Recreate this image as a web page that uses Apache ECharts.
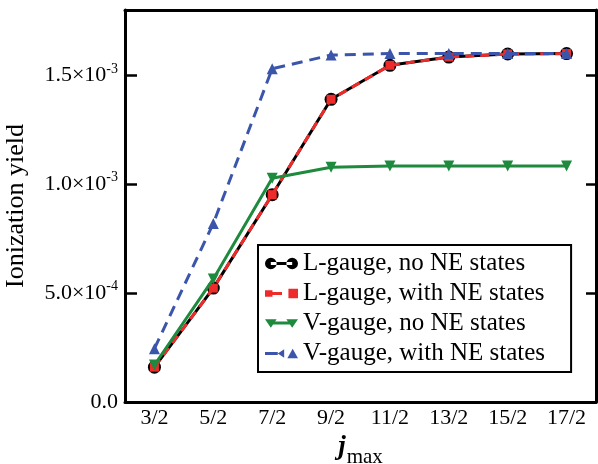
<!DOCTYPE html>
<html>
<head>
<meta charset="utf-8">
<script src="https://cdn.jsdelivr.net/npm/echarts@6/dist/echarts.min.js"></script>
<style>
  html, body { margin: 0; padding: 0; background: #fff; }
  #chart { width: 598px; height: 464px; }
</style>
</head>
<body>
<div id="chart"></div>
<script>
// j_max categories
const jmax = ['3/2', '5/2', '7/2', '9/2', '11/2', '13/2', '15/2', '17/2'];

// ionization yield values
const lNoNE = [0.160e-3, 0.523e-3, 0.952e-3, 1.390e-3, 1.546e-3, 1.584e-3, 1.598e-3, 1.600e-3];
const lWithNE = [0.160e-3, 0.523e-3, 0.952e-3, 1.390e-3, 1.546e-3, 1.584e-3, 1.598e-3, 1.600e-3];
const vNoNE = [0.170e-3, 0.565e-3, 1.027e-3, 1.078e-3, 1.084e-3, 1.084e-3, 1.084e-3, 1.084e-3];
const vWithNE = [0.245e-3, 0.820e-3, 1.530e-3, 1.593e-3, 1.600e-3, 1.600e-3, 1.600e-3, 1.600e-3];

// y tick labels
const yMajor = [0, 5e-4, 1e-3, 1.5e-3];
const yLabels = ['{a|0.0}', '{a|5.0×10}{s|-4}', '{a|1.0×10}{s|-3}', '{a|1.5×10}{s|-3}'];

const FONT = 'Liberation Serif';
const RED = '#ee2b2b', GREEN = '#1d8a3d', BLUE = '#3b55aa';

let chart = echarts.init(document.getElementById('chart'), null, { renderer: 'canvas' });

function yLabel(v) {
  for (let i = 0; i < yMajor.length; i++) {
    if (Math.abs(v - yMajor[i]) < 1e-9) return yLabels[i];
  }
  return '';
}

// legend icons: marker - line - marker
const iconL = 'path://M0,6a6,6 0 1,0 12,0a6,6 0 1,0 -12,0zM6,4.5h22v3h-22zM22,6a6,6 0 1,0 12,0a6,6 0 1,0 -12,0z';
const iconLNE = 'path://M2,3h7v6h-7zM9,4.5h9v3h-9zM24,1.5h9v9h-9z';
const iconV = 'path://M0,2h12l-6,9zM6,4.5h22v3h-22zM22,2h12l-6,9z';
const iconVNE = 'path://M2,4.5h12v3h-12zM14,6l6,-4v8zM23,10.5l5,-9l5,9z';

let axisCommon = {
  min: 0,
  max: 1.8e-3,
  interval: 1e-4,
  splitLine: { show: false },
};

let option = {
  animation: false,
  grid: { left: 125, right: 2, top: 10, bottom: 62, containLabel: false, outerBoundsMode: 'none' },
  legend: {
    orient: 'vertical',
    left: 258,
    top: 245,
    padding: [6, 26, 6, 7],
    itemGap: 5,
    itemWidth: 33,
    itemHeight: 12,
    backgroundColor: '#fff',
    borderColor: '#000',
    borderWidth: 2,
    textStyle: { fontFamily: FONT, fontSize: 25, color: '#000', lineHeight: 24 },
    data: [
      { name: 'L-gauge, no NE states', icon: iconL, itemStyle: { color: '#000' } },
      { name: 'L-gauge, with NE states', icon: iconLNE, itemStyle: { color: RED } },
      { name: 'V-gauge, no NE states', icon: iconV, itemStyle: { color: GREEN } },
      { name: 'V-gauge, with NE states', icon: iconVNE, itemStyle: { color: BLUE } },
    ],
  },
  xAxis: [
    {
      type: 'category',
      data: jmax,
      position: 'bottom',
      boundaryGap: true,
      name: '{j|j}{m|max}',
      nameLocation: 'middle',
      nameGap: 22,
      nameTextStyle: {
        rich: {
          j: { fontFamily: FONT, fontSize: 27, fontWeight: 'bold', fontStyle: 'italic', color: '#000' },
          m: { fontFamily: FONT, fontSize: 21, color: '#000', padding: [20, 0, 0, 1] },
        },
      },
      axisLine: { onZero: false, lineStyle: { color: '#000', width: 3 } },
      axisTick: { alignWithLabel: true, inside: true, length: 10, lineStyle: { color: '#000', width: 2.5 } },
      axisLabel: { fontFamily: FONT, fontSize: 22, color: '#000', margin: 5 },
      splitLine: { show: false },
    },
    {
      type: 'category',
      data: jmax,
      position: 'top',
      boundaryGap: true,
      axisLine: { onZero: false, lineStyle: { color: '#000', width: 3 } },
      axisTick: { alignWithLabel: true, inside: true, length: 10, lineStyle: { color: '#000', width: 2.5 } },
      axisLabel: { show: false },
      splitLine: { show: false },
    },
  ],
  yAxis: [
    Object.assign({}, axisCommon, {
      type: 'value',
      position: 'left',
      name: 'Ionization yield',
      nameLocation: 'middle',
      nameGap: 96,
      nameTextStyle: { fontFamily: FONT, fontSize: 26, color: '#000' },
      axisLine: { show: true, onZero: false, lineStyle: { color: '#000', width: 3 } },
      axisTick: { inside: true, length: 6, lineStyle: { color: '#000', width: 2 } },
      axisLabel: {
        customValues: yMajor,
        formatter: yLabel,
        margin: 7,
        rich: {
          a: { fontFamily: FONT, fontSize: 22, color: '#000' },
          s: { fontFamily: FONT, fontSize: 14, color: '#000', padding: [0, 0, 13, 0] },
        },
      },
    }),
    Object.assign({}, axisCommon, {
      type: 'value',
      position: 'right',
      axisLine: { show: true, onZero: false, lineStyle: { color: '#000', width: 3 } },
      axisTick: { inside: true, length: 5, lineStyle: { color: '#000', width: 2 } },
      axisLabel: { show: false },
    }),
    Object.assign({}, axisCommon, {
      type: 'value',
      position: 'left',
      axisLine: { show: false, onZero: false },
      axisTick: { show: true, customValues: yMajor.slice(1), inside: true, length: 12, lineStyle: { color: '#000', width: 2.5 } },
      axisLabel: { show: false },
    }),
    Object.assign({}, axisCommon, {
      type: 'value',
      position: 'right',
      axisLine: { show: false, onZero: false },
      axisTick: { show: true, customValues: yMajor.slice(1), inside: true, length: 10, lineStyle: { color: '#000', width: 2.5 } },
      axisLabel: { show: false },
    }),
  ],
  series: [
    {
      name: 'L-gauge, no NE states',
      type: 'line',
      data: lNoNE,
      symbol: 'circle',
      symbolSize: 13,
      lineStyle: { color: '#000', width: 3 },
      itemStyle: { color: '#000' },
      z: 2,
    },
    {
      name: 'L-gauge, with NE states',
      type: 'line',
      data: lWithNE,
      symbol: 'rect',
      symbolSize: 9,
      lineStyle: { color: RED, width: 3, type: [9, 6] },
      itemStyle: { color: RED },
      z: 3,
    },
    {
      name: 'V-gauge, no NE states',
      type: 'line',
      data: vNoNE,
      symbol: 'triangle',
      symbolRotate: 180,
      symbolSize: 11,
      lineStyle: { color: GREEN, width: 3 },
      itemStyle: { color: GREEN },
      z: 4,
    },
    {
      name: 'V-gauge, with NE states',
      type: 'line',
      data: vWithNE,
      symbol: 'triangle',
      symbolSize: 11,
      lineStyle: { color: BLUE, width: 3, type: [11, 7] },
      itemStyle: { color: BLUE },
      z: 5,
    },
  ],
};

chart.setOption(option);
</script>
</body>
</html>
